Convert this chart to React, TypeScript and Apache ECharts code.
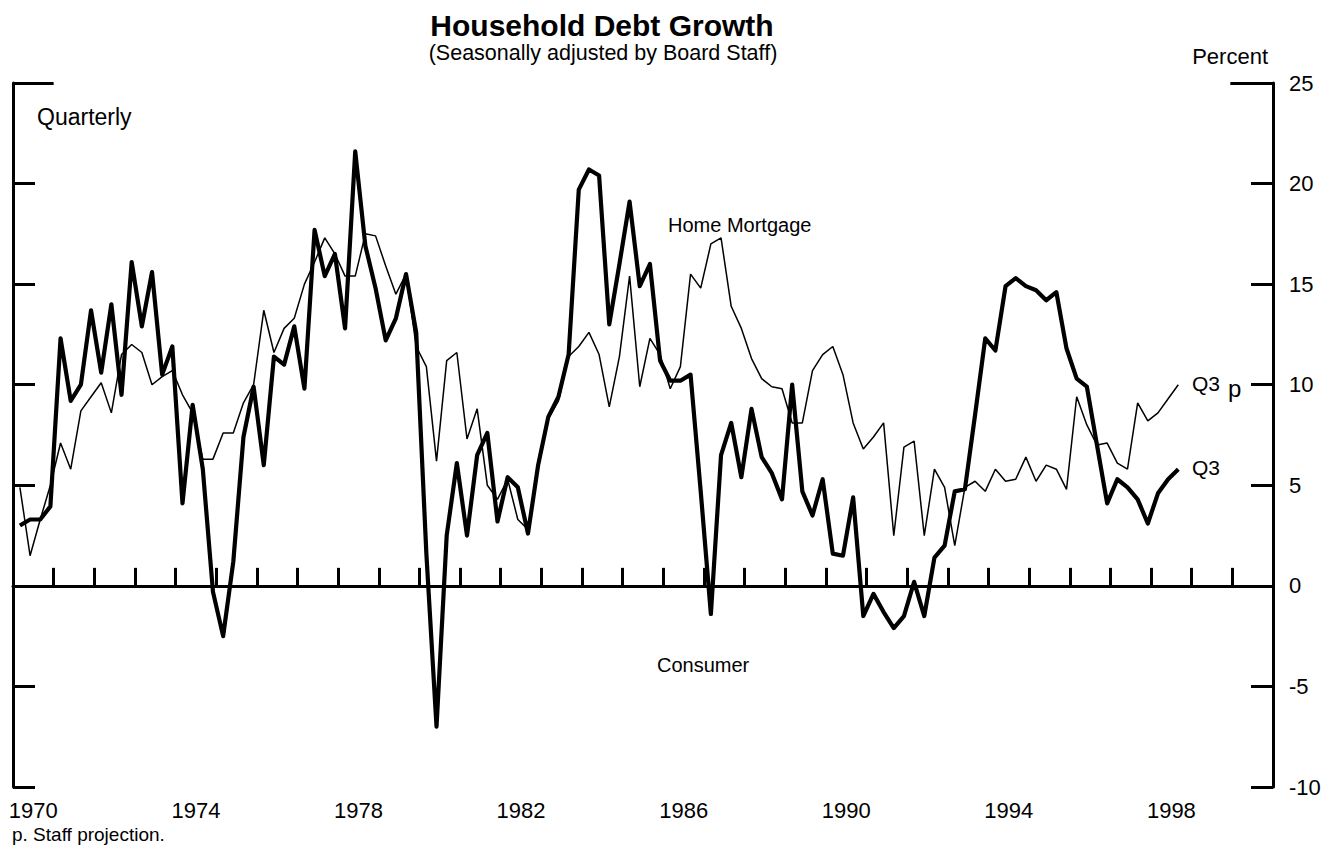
import React, { useEffect, useRef } from "react";
import * as echarts from "echarts";

// Category labels for the year axis (one band per year)
const yearLabels = [
  "1970", "1971", "1972", "1973", "1974", "1975", "1976", "1977", "1978", "1979",
  "1980", "1981", "1982", "1983", "1984", "1985", "1986", "1987", "1988", "1989",
  "1990", "1991", "1992", "1993", "1994", "1995", "1996", "1997", "1998", "1999", "2000",
];

// Quarterly growth rates, percent, 1970Q1 .. 1998Q3
const startYear = 1970;
const consumer = [
  3.0, 3.3, 3.3, 3.95, 12.3, 9.2, 10.0, 13.7, 10.6, 14.0,
  9.5, 16.1, 12.9, 15.6, 10.5, 11.9, 4.1, 9.0, 5.8, -0.3,
  -2.5, 1.2, 7.4, 9.9, 6.0, 11.4, 11.0, 12.9, 9.8, 17.7,
  15.4, 16.5, 12.8, 21.6, 16.9, 14.8, 12.2, 13.3, 15.5, 12.6,
  1.6, -7.0, 2.5, 6.1, 2.5, 6.5, 7.6, 3.2, 5.4, 4.9,
  2.6, 6.0, 8.4, 9.4, 11.5, 19.7, 20.7, 20.4, 13.0, 16.0,
  19.1, 14.9, 16.0, 11.2, 10.2, 10.2, 10.5, 4.7, -1.4, 6.5,
  8.1, 5.4, 8.8, 6.4, 5.6, 4.3, 10.0, 4.7, 3.5, 5.3,
  1.6, 1.5, 4.4, -1.5, -0.4, -1.3, -2.1, -1.5, 0.2, -1.5,
  1.4, 2.0, 4.7, 4.8, 8.5, 12.3, 11.7, 14.9, 15.3, 14.9,
  14.7, 14.2, 14.6, 11.8, 10.3, 9.9, 7.0, 4.1, 5.3, 4.9,
  4.3, 3.1, 4.6, 5.3, 5.8,
];
const homeMortgage = [
  4.9, 1.5, 3.3, 5.0, 7.1, 5.8, 8.7, 9.4, 10.1, 8.6,
  11.5, 12.0, 11.6, 10.0, 10.4, 10.7, 9.5, 8.6, 6.3, 6.3,
  7.6, 7.6, 9.1, 10.0, 13.7, 11.6, 12.8, 13.3, 15.0, 16.1,
  17.3, 16.5, 15.4, 15.4, 17.5, 17.4, 15.9, 14.5, 15.5, 11.9,
  10.9, 6.2, 11.2, 11.6, 7.3, 8.8, 5.0, 4.3, 5.3, 3.3,
  2.8, 6.2, 8.3, 9.2, 11.4, 11.9, 12.6, 11.5, 8.9, 11.4,
  15.4, 9.9, 12.3, 11.5, 9.8, 10.9, 15.5, 14.8, 17.0, 17.3,
  13.9, 12.8, 11.3, 10.3, 9.9, 9.8, 8.1, 8.1, 10.7, 11.5,
  11.9, 10.5, 8.1, 6.8, 7.4, 8.1, 2.5, 6.9, 7.2, 2.5,
  5.8, 4.9, 2.0, 4.9, 5.2, 4.7, 5.8, 5.2, 5.3, 6.4,
  5.2, 6.0, 5.8, 4.8, 9.4, 8.0, 7.0, 7.1, 6.1, 5.8,
  9.1, 8.2, 8.6, 9.3, 10.0,
];

const yTicks = { min: -10, max: 25, step: 5 };

const FONT = '"Liberation Sans", Arial, Helvetica, sans-serif';

function toPoints(values: number[]) {
  return values.map((v, i) => [startYear + 0.17 + i * 0.25, v]);
}

export default function App() {
  const ref = useRef<HTMLDivElement>(null);

  useEffect(() => {
    if (!ref.current) return;
    const chart = echarts.init(ref.current, null, { renderer: "svg" });
    const txt = (text: string, x: number, y: number, size: number, align = "left", weight = "normal") => ({
      type: "text",
      x,
      y,
      silent: true,
      style: {
        text,
        font: `${weight} ${size}px ${FONT}`,
        fill: "#000",
        align,
        verticalAlign: "middle",
      },
    });
    const option: any = {
      animation: false,
      backgroundColor: "#fff",
      grid: { left: 13, right: 68, top: 83, bottom: 61, containLabel: false },
      xAxis: [
        {
          type: "category",
          data: yearLabels,
          position: "bottom",
          boundaryGap: true,
          axisLine: { show: true, lineStyle: { color: "#000", width: 3 } },
          axisTick: { show: true, inside: true, length: 18, interval: 0, lineStyle: { color: "#000", width: 3 } },
          axisLabel: { interval: 3, color: "#000", fontSize: 22, fontFamily: FONT, margin: 12 },
          splitLine: { show: false },
        },
        {
          type: "value",
          min: 1970,
          max: 2001,
          show: false,
        },
      ],
      yAxis: [
        {
          type: "value",
          min: yTicks.min,
          max: yTicks.max,
          interval: yTicks.step,
          position: "left",
          axisLine: { show: true, lineStyle: { color: "#000", width: 3 } },
          axisTick: { show: true, inside: true, length: 22, lineStyle: { color: "#000", width: 3 } },
          axisLabel: { show: false },
          splitLine: { show: false },
        },
        {
          type: "value",
          min: yTicks.min,
          max: yTicks.max,
          interval: yTicks.step,
          position: "right",
          axisLine: { show: true, lineStyle: { color: "#000", width: 3 } },
          axisTick: { show: true, inside: true, length: 22, lineStyle: { color: "#000", width: 3 } },
          axisLabel: { show: true, color: "#000", fontSize: 22, fontFamily: FONT, margin: 16 },
          splitLine: { show: false },
        },
      ],
      series: [
        {
          name: "Home Mortgage",
          type: "line",
          xAxisIndex: 1,
          yAxisIndex: 0,
          data: toPoints(homeMortgage),
          symbol: "none",
          lineStyle: { color: "#000", width: 1.5 },
          markLine: {
            silent: true,
            symbol: "none",
            label: { show: false },
            lineStyle: { color: "#000", width: 2, type: "solid" },
            data: [
              { yAxis: 0 },
              [
                { coord: [1970, 25], lineStyle: { width: 3, color: "#000", type: "solid" } },
                { coord: [1971, 25] },
              ],
              [
                { coord: [1999.95, 25], lineStyle: { width: 3, color: "#000", type: "solid" } },
                { coord: [2001, 25] },
              ],
            ],
          },
        },
        {
          name: "Consumer",
          type: "line",
          xAxisIndex: 1,
          yAxisIndex: 0,
          data: toPoints(consumer),
          symbol: "none",
          lineStyle: { color: "#000", width: 4.2, join: "round" },
        },
      ],
      graphic: [
        txt("Household Debt Growth", 602, 25, 30, "center", "bold"),
        txt("(Seasonally adjusted by Board Staff)", 603, 53, 21.5, "center"),
        txt("Percent", 1268, 56, 22, "right"),
        txt("Quarterly", 37, 117, 23),
        txt("Home Mortgage", 668, 225, 20),
        txt("Consumer", 657, 665, 20),
        txt("Q3", 1192, 383, 21),
        txt("p", 1228, 388, 24),
        txt("Q3", 1192, 467, 21),
        txt("p. Staff projection.", 12, 834, 19),
      ],
    };
    chart.setOption(option);
    return () => chart.dispose();
  }, []);

  return (
    <div
      ref={ref}
      style={{ position: "fixed", left: 0, top: 0, width: 1341, height: 848, background: "#fff" }}
    />
  );
}
